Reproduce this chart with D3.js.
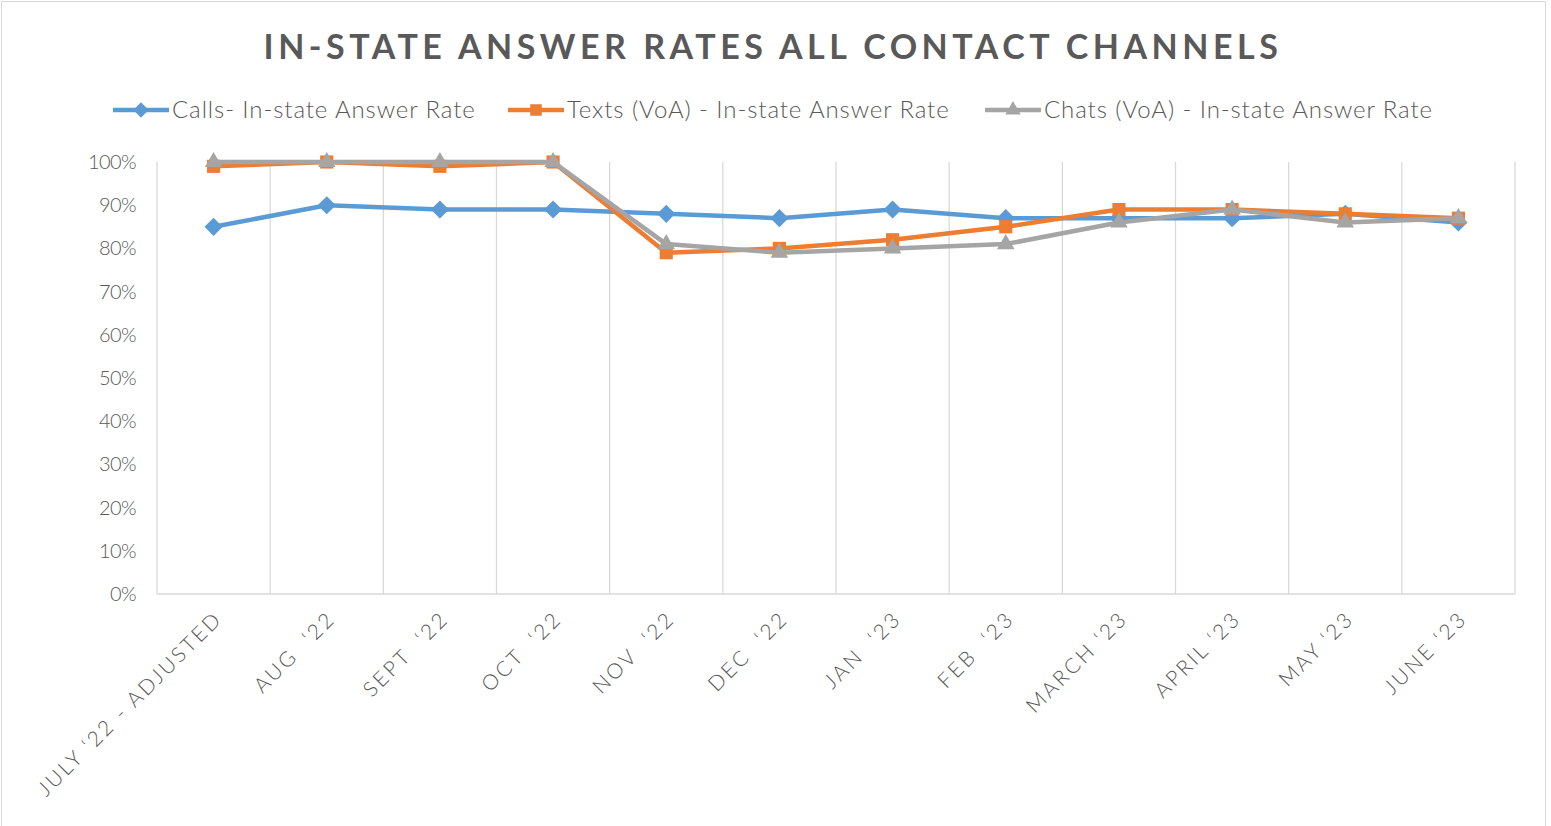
<!DOCTYPE html>
<html><head><meta charset="utf-8">
<script src="https://cdn.jsdelivr.net/npm/d3@7"></script>
<style>
body{margin:0;background:#fff;}
svg{display:block;font-family:"Lato","Open Sans",sans-serif;}
</style></head>
<body>
<svg id="chart" width="1551" height="826"></svg>
<script>
const categories = ["JULY \u201822 - ADJUSTED","AUG  \u201822","SEPT  \u201822","OCT  \u201822","NOV  \u201822","DEC  \u201822","JAN  \u201823","FEB  \u201823","MARCH \u201823","APRIL \u201823","MAY \u201823","JUNE \u201823"];
const calls = [85,90,89,89,88,87,89,87,87,87,88,86];
const texts = [99,100,99,100,79,80,82,85,89,89,88,87];
const chats = [100,100,100,100,81,79,80,81,86,89,86,87];
const seriesNames = ["Calls- In-state Answer Rate","Texts (VoA) - In-state Answer Rate","Chats (VoA) - In-state Answer Rate"];
const yTicks = [0,10,20,30,40,50,60,70,80,90,100];

(function(){
const colors = ["#5B9BD5","#ED7D31","#A5A5A5"];
const symbols = [d3.symbolDiamond2, d3.symbolSquare2, d3.symbolTriangle2];
const series = [calls, texts, chats];

const svg = d3.select("#chart");
const pL = 157, pR = 1515, pT = 162, pB = 594;

svg.append("rect").attr("x",1.5).attr("y",1.5).attr("width",1544).attr("height",830)
  .attr("fill","#fff").attr("stroke","#D9D9D9");

const x = d3.scaleBand().domain(categories).range([pL,pR]).padding(0);
const y = d3.scaleLinear().domain([0,100]).range([pB,pT]);

const bounds = categories.map(c=>x(c)).concat([pR]);
svg.append("g").selectAll("line").data(bounds).join("line")
  .attr("x1",d=>d).attr("x2",d=>d).attr("y1",pT).attr("y2",pB)
  .attr("stroke","#D9D9D9").attr("stroke-width",1.3);
svg.append("line").attr("x1",pL).attr("x2",pR).attr("y1",pB).attr("y2",pB)
  .attr("stroke","#D9D9D9").attr("stroke-width",1.3);

svg.append("g").selectAll("text").data(yTicks).join("text")
  .attr("x",136).attr("y",d=>y(d)).attr("dy","0.35em").attr("text-anchor","end")
  .attr("font-size",20).attr("font-weight",300).attr("letter-spacing","-0.6px").attr("fill","#595959").text(d=>d+"%");

svg.append("g").selectAll("text").data(categories).join("text")
  .attr("transform",d=>`translate(${x(d)+x.bandwidth()/2+10},${620}) rotate(-45)`)
  .attr("text-anchor","end").attr("font-size",21).attr("font-weight",300).attr("fill","#595959")
  .attr("letter-spacing","2.6px").style("white-space","pre").text(d=>d);

const line = d3.line().x((d,i)=>x(categories[i])+x.bandwidth()/2).y(d=>y(d));
series.forEach((s,k)=>{
  svg.append("path").datum(s).attr("d",line).attr("fill","none")
    .attr("stroke",colors[k]).attr("stroke-width",4.5).attr("stroke-linejoin","round");
  svg.append("g").selectAll("path").data(s).join("path")
    .attr("transform",(d,i)=>`translate(${x(categories[i])+x.bandwidth()/2},${y(d)})`)
    .attr("d",d3.symbol().type(symbols[k]).size(k===0?210:k===1?220:220))
    .attr("fill",colors[k]);
});

svg.append("text").attr("x",773).attr("y",59).attr("text-anchor","middle")
  .attr("font-size",34).attr("font-weight","bold").attr("fill","#595959")
  .attr("letter-spacing","4.5px").text("IN-STATE ANSWER RATES ALL CONTACT CHANNELS");

const legX = [113,508,985];
seriesNames.forEach((n,k)=>{
  const g = svg.append("g").attr("transform",`translate(${legX[k]},110)`);
  g.append("line").attr("x1",0).attr("x2",56).attr("stroke",colors[k]).attr("stroke-width",4.5);
  g.append("path").attr("transform","translate(28,0)")
    .attr("d",d3.symbol().type(symbols[k]).size(k===0?150:170)).attr("fill",colors[k]);
  g.append("text").attr("x",59).attr("dy","0.35em").attr("font-size",24).attr("font-weight",300)
    .attr("letter-spacing","0.9px").attr("fill","#595959").text(n);
});
})();
</script>
</body></html>
